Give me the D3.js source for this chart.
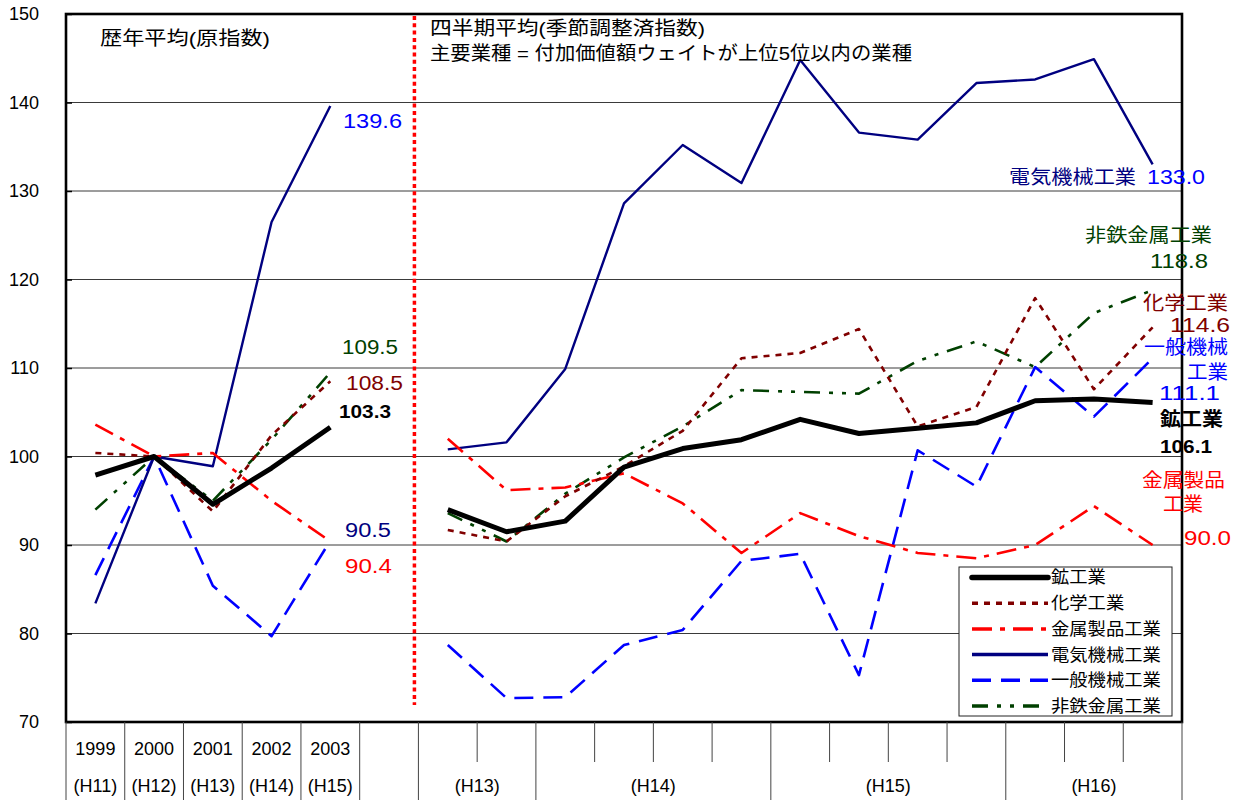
<!DOCTYPE html>
<html>
<head>
<meta charset="utf-8">
<script src="https://cdn.jsdelivr.net/npm/d3@7"></script>
<style>
body { margin: 0; background: #fff; }
text { font-family: "Liberation Sans", "Noto Sans CJK JP", sans-serif; }
</style>
</head>
<body>
<script>
// categories
var years = ["1999", "2000", "2001", "2002", "2003"];
var yearEras = ["(H11)", "(H12)", "(H13)", "(H14)", "(H15)"];
var quarters = ["H13Q3", "H13Q4", "H14Q1", "H14Q2", "H14Q3", "H14Q4",
                "H15Q1", "H15Q2", "H15Q3", "H15Q4", "H16Q1", "H16Q2", "H16Q3"];
var fiscalYears = ["H13", "H14", "H15", "H16"];
var yTicks = [70, 80, 90, 100, 110, 120, 130, 140, 150];

// annual averages (original index)
var miningYear     = [97.9, 100, 94.6, 98.7, 103.3];
var chemYear       = [100.4, 100, 93.8, 102.4, 108.5];
var metalProdYear  = [103.6, 100, 100.4, 95.0, 90.4];
var elecYear       = [83.4, 100, 98.9, 126.5, 139.6];
var generalYear    = [86.6, 100, 85.4, 79.7, 90.5];
var nonferrousYear = [94.0, 100, 95.0, 101.9, 109.5];

// quarterly averages (seasonally adjusted)
var miningQtr     = [94.0, 91.5, 92.7, 98.8, 100.9, 101.9, 104.2, 102.6, 103.2, 103.8, 106.3, 106.5, 106.1];
var chemQtr       = [91.7, 90.4, 95.5, 98.9, 102.9, 111.1, 111.7, 114.4, 103.4, 105.6, 117.9, 107.6, 114.6];
var metalProdQtr  = [102.0, 96.2, 96.5, 98.1, 94.7, 89.1, 93.6, 91.0, 89.1, 88.5, 90.0, 94.4, 90.0];
var elecQtr       = [100.8, 101.6, 109.9, 128.6, 135.2, 130.9, 144.8, 136.6, 135.8, 142.2, 142.6, 144.9, 133.0];
var generalQtr    = [78.7, 72.7, 72.8, 78.7, 80.4, 88.2, 89.0, 75.3, 100.7, 96.6, 110.1, 104.5, 111.1];
var nonferrousQtr = [93.6, 90.4, 95.8, 99.9, 103.4, 107.5, 107.3, 107.1, 110.8, 113.0, 110.1, 116.2, 118.8];

var seriesNames = ["鉱工業", "化学工業", "金属製品工業", "電気機械工業", "一般機械工業", "非鉄金属工業"];

var w = 1239, h = 803;
var svg = d3.select("body").append("svg").attr("width", w).attr("height", h);

var plotL = 66, plotR = 1182, plotT = 14, plotB = 722;

var x = d3.scaleBand()
  .domain(years.concat(["gap"], quarters))
  .range([plotL, plotR])
  .padding(0);
var bw = x.bandwidth();
var cx = function(k) { return x(k) + bw / 2; };

var y = d3.scaleLinear().domain([70, 150]).range([plotB, plotT]);

var series = [
  {name: seriesNames[5], yr: nonferrousYear, q: nonferrousQtr, color: "#004000", width: 2.6, dash: "16,9,4,9,4,9"},
  {name: seriesNames[4], yr: generalYear, q: generalQtr, color: "#0000ff", width: 2.6, dash: "19,10"},
  {name: seriesNames[3], yr: elecYear, q: elecQtr, color: "#000080", width: 2.4, dash: null},
  {name: seriesNames[2], yr: metalProdYear, q: metalProdQtr, color: "#ff0000", width: 2.6, dash: "20,8,5,8"},
  {name: seriesNames[1], yr: chemYear, q: chemQtr, color: "#800000", width: 2.6, dash: "6,6"},
  {name: seriesNames[0], yr: miningYear, q: miningQtr, color: "#000000", width: 5, dash: null}
];

// grid lines
svg.append("g").selectAll("line")
  .data(yTicks.slice(1, -1))
  .enter().append("line")
  .attr("x1", plotL).attr("x2", plotR)
  .attr("y1", function(d) { return y(d); })
  .attr("y2", function(d) { return y(d); })
  .attr("stroke", "#3a3a3a")
  .attr("stroke-width", 1);

// y axis
var yAxis = svg.append("g")
  .attr("transform", "translate(" + plotL + ",0)")
  .call(d3.axisLeft(y).tickValues(yTicks).tickSize(-6).tickPadding(27));
yAxis.select(".domain").remove();
yAxis.selectAll(".tick line").attr("stroke", "#000").attr("stroke-width", 1.5);
yAxis.selectAll("text")
  .attr("font-size", "18px")
  .attr("fill", "#000")
  .style("font-family", "'Liberation Sans', sans-serif");

// red dotted separator
var sepX = x("gap") + bw - 4;
svg.append("line")
  .attr("x1", sepX).attr("x2", sepX)
  .attr("y1", plotT + 2).attr("y2", 705)
  .attr("stroke", "#ff0000")
  .attr("stroke-width", 3.5)
  .attr("stroke-dasharray", "4,3.3");

// series lines
var line = d3.line()
  .x(function(d) { return d[0]; })
  .y(function(d) { return y(d[1]); });

series.forEach(function(s) {
  var a = s.yr.map(function(v, i) { return [cx(years[i]), v]; });
  var b = s.q.map(function(v, i) { return [cx(quarters[i]), v]; });
  [a, b].forEach(function(pts) {
    svg.append("path")
      .attr("d", line(pts))
      .attr("fill", "none")
      .attr("stroke", s.color)
      .attr("stroke-width", s.width)
      .attr("stroke-dasharray", s.dash)
      .attr("stroke-linejoin", "round");
  });
});

// frame
svg.append("rect")
  .attr("x", plotL).attr("y", plotT)
  .attr("width", plotR - plotL).attr("height", plotB - plotT)
  .attr("fill", "none")
  .attr("stroke", "#000")
  .attr("stroke-width", 2.6);

// bottom category cells
var nSlots = x.domain().length;
var fiscalStarts = [];
fiscalYears.forEach(function(f) {
  var idx = quarters.findIndex(function(q) { return q.indexOf(f) === 0; });
  fiscalStarts.push(idx + years.length + 1);
});
var bounds = d3.range(nSlots + 1).map(function(k) {
  var full = k <= years.length + 1 || fiscalStarts.indexOf(k) >= 0 || k === nSlots;
  return {x: plotL + k * bw, full: full};
});
svg.append("g").selectAll("line")
  .data(bounds)
  .enter().append("line")
  .attr("x1", function(d) { return d.x; })
  .attr("x2", function(d) { return d.x; })
  .attr("y1", plotB)
  .attr("y2", function(d) { return d.full ? 800 : 762; })
  .attr("stroke", "#444")
  .attr("stroke-width", 1);

svg.append("g").selectAll("text")
  .data(years)
  .enter().append("text")
  .attr("x", function(d) { return cx(d); })
  .attr("y", 749)
  .attr("dy", "0.35em")
  .attr("text-anchor", "middle")
  .attr("font-size", "18px")
  .text(function(d) { return d; });

svg.append("g").selectAll("text")
  .data(yearEras)
  .enter().append("text")
  .attr("x", function(d, i) { return cx(years[i]); })
  .attr("y", 786)
  .attr("dy", "0.35em")
  .attr("text-anchor", "middle")
  .attr("font-size", "18px")
  .text(function(d) { return d; });

svg.append("g").selectAll("text")
  .data(fiscalYears)
  .enter().append("text")
  .attr("x", function(f) {
    var qs = quarters.filter(function(q) { return q.indexOf(f) === 0; });
    return (x(qs[0]) + x(qs[qs.length - 1]) + bw) / 2;
  })
  .attr("y", 786)
  .attr("dy", "0.35em")
  .attr("text-anchor", "middle")
  .attr("font-size", "18px")
  .text(function(f) { return "(" + f + ")"; });

// helper: squeeze text to a width
function label(t, xx, yy, wd, color, size, bold) {
  svg.append("text")
    .attr("x", xx).attr("y", yy)
    .attr("dy", "0.35em")
    .attr("font-size", size + "px")
    .attr("font-weight", bold ? "bold" : "normal")
    .attr("fill", color)
    .attr("textLength", wd)
    .attr("lengthAdjust", "spacingAndGlyphs")
    .text(t);
}

// titles
label("歴年平均(原指数)", 100, 38, 170, "#000", 19, false);
label("四半期平均(季節調整済指数)", 430, 28, 275, "#000", 19, false);
label("主要業種 = 付加価値額ウェイトが上位5位以内の業種", 430, 53, 482, "#000", 19, false);

// end labels, annual
var f1 = d3.format(".1f");
label(f1(elecYear[4]), 343, 121, 59, "#0000ff", 20, false);
label(f1(nonferrousYear[4]), 342, 347, 56, "#004000", 20, false);
label(f1(chemYear[4]), 346, 383, 57, "#800000", 20, false);
label(f1(miningYear[4]), 339, 411, 52, "#000", 19, true);
label(f1(generalYear[4]), 345, 530, 46, "#000080", 20, false);
label(f1(metalProdYear[4]), 345, 566, 47, "#ff0000", 20, false);

// end labels, quarterly
label("電気機械工業", 1009, 177, 127, "#000080", 19, false);
label(f1(elecQtr[12]), 1147, 177, 58, "#0000ff", 20, false);
label("非鉄金属工業", 1085, 235, 127, "#004000", 19, false);
label(f1(nonferrousQtr[12]), 1150, 261, 58, "#004000", 20, false);
label("化学工業", 1143, 303, 85, "#800000", 19, false);
label(f1(chemQtr[12]), 1170, 325, 60, "#800000", 20, false);
label("一般機械", 1144, 347, 84, "#0000ff", 19, false);
label("工業", 1187, 372, 41, "#0000ff", 19, false);
label(f1(generalQtr[12]), 1159, 393, 61, "#0000ff", 20, false);
label("鉱工業", 1160, 419, 63, "#000", 19, true);
label(f1(miningQtr[12]), 1160, 446, 52, "#000", 19, true);
label("金属製品", 1142, 480, 83, "#ff0000", 19, false);
label("工業", 1163, 504, 40, "#ff0000", 19, false);
label(f1(metalProdQtr[12]), 1184, 538, 47, "#ff0000", 20, false);

// legend
var legendOrder = series.slice().reverse();
var lg = svg.append("g");
lg.append("rect")
  .attr("x", 959).attr("y", 567)
  .attr("width", 213).attr("height", 149)
  .attr("fill", "#fff")
  .attr("stroke", "#222")
  .attr("stroke-width", 1);
var item = lg.selectAll(".item")
  .data(legendOrder)
  .enter().append("g")
  .attr("class", "item")
  .attr("transform", function(d, i) { return "translate(0," + (577.5 + i * 25.7) + ")"; });
item.append("line")
  .attr("x1", 972).attr("x2", 1048)
  .attr("stroke", function(d) { return d.color; })
  .attr("stroke-width", function(d) { return d.width === 5 ? 5.5 : 3.5; })
  .attr("stroke-linecap", function(d) { return d.width === 5 ? "round" : "butt"; })
  .attr("stroke-dasharray", function(d) { return d.dash; });
item.append("text")
  .attr("x", 1051)
  .attr("dy", "0.35em")
  .attr("font-size", "17px")
  .attr("textLength", function(d) { return d.name.length * 18.3; })
  .attr("lengthAdjust", "spacingAndGlyphs")
  .text(function(d) { return d.name; });
</script>
</body>
</html>
